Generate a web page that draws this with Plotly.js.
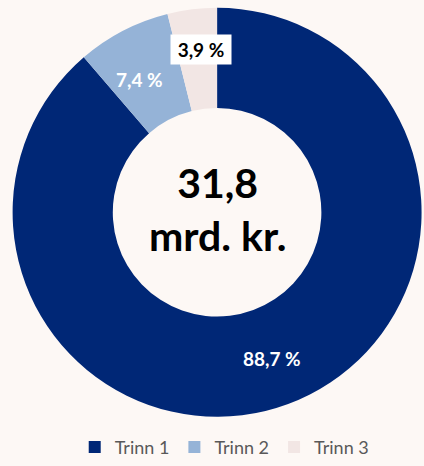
<!DOCTYPE html>
<html>
<head>
<meta charset="utf-8">
<script src="https://cdn.plot.ly/plotly-3.0.1.min.js"></script>
<style>
html,body{margin:0;padding:0;background:#FDF8F5;}
#chart{width:424px;height:466px;}
</style>
</head>
<body>
<div id="chart"></div>
<script>
const categories = ["Trinn 1", "Trinn 2", "Trinn 3"];
const shares = [88.7, 7.4, 3.9];
const valueLabels = ["88,7 %", "7,4 %", "3,9 %"];
const totalText = ["31,8", "mrd. kr."];

const colors = ["#002776", "#95B3D7", "#F2E6E4"];
const labelColors = ["#FFFFFF", "#FFFFFF", "#000000"];
const labelBg = ["rgba(0,0,0,0)", "rgba(0,0,0,0)", "#FFFFFF"];
const labelPos = [[272 / 424, 1 - 364 / 466], [139 / 424, 1 - 81 / 466], [201 / 424, 1 - 50 / 466]];

const trace = {
  type: "pie",
  labels: categories,
  values: shares,
  hole: 0.51,
  sort: false,
  direction: "clockwise",
  rotation: 0,
  textinfo: "none",
  hoverinfo: "label+percent",
  marker: {colors: colors, line: {width: 0}},
  domain: {x: [0.024, 1.0], y: [0.092, 0.983]},
  showlegend: true
};

const annotations = valueLabels.map((t, i) => {
  const a = {
    text: "<b>" + t + "</b>",
    x: labelPos[i][0], y: labelPos[i][1], xref: "paper", yref: "paper",
    xanchor: "center", yanchor: "middle",
    showarrow: false,
    font: {family: "Lato, sans-serif", size: 19, color: labelColors[i]},
    bgcolor: labelBg[i],
    borderpad: 0
  };
  if (i === 2) { a.width = 60; a.height = 29; }
  return a;
});
annotations.push({
  text: "<b>" + totalText.join("<br>") + "</b>",
  x: 0.512, y: 1 - 212 / 466, xref: "paper", yref: "paper",
  xanchor: "center", yanchor: "middle",
  showarrow: false,
  font: {family: "Lato, sans-serif", size: 41, color: "#000000"}
});

const layout = {
  width: 424, height: 466,
  margin: {l: 0, r: 0, t: 0, b: 0},
  paper_bgcolor: "#FDF8F5",
  plot_bgcolor: "#FDF8F5",
  showlegend: true,
  legend: {
    orientation: "h", x: 0.53, xanchor: "center", y: 1 - 454 / 466, yanchor: "middle",
    font: {family: "Lato, sans-serif", size: 18, color: "#595959"},
    traceorder: "normal", itemwidth: 30
  },
  annotations: annotations
};

Plotly.newPlot("chart", [trace], layout, {displayModeBar: false, staticPlot: true});
</script>
</body>
</html>
